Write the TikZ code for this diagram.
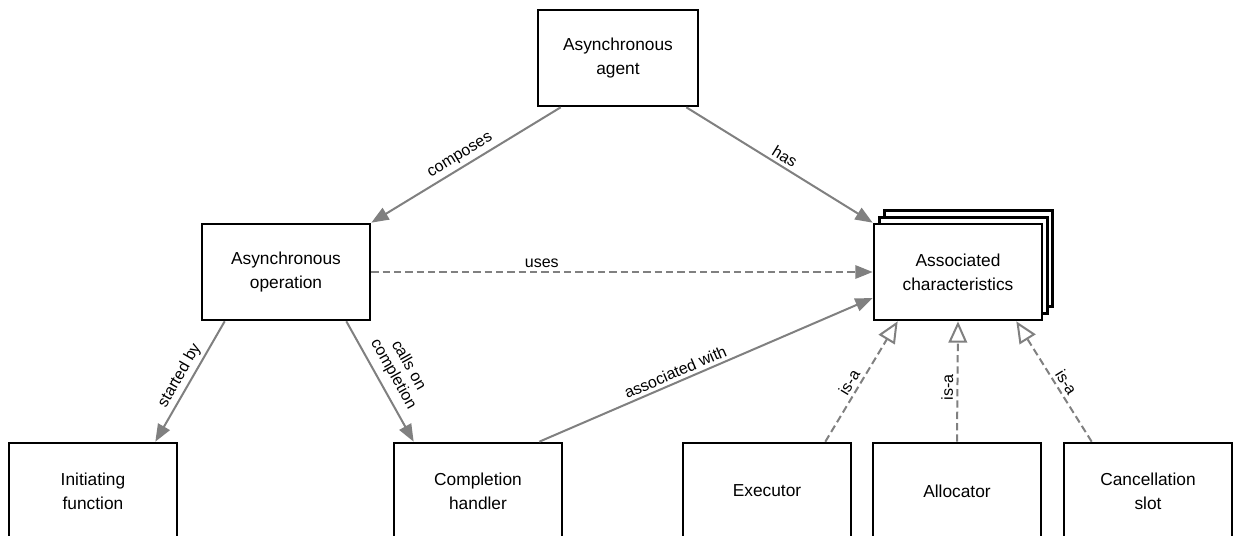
\documentclass[tikz,border=0pt]{standalone}
\usepackage{fontspec}
\setmainfont{Liberation Sans}
\usetikzlibrary{arrows.meta,calc,shadows}
\definecolor{linkgray}{HTML}{808080}
\tikzset{
  box/.style={draw, line width=2pt, fill=white, minimum width=126pt,
    minimum height=72pt, align=center, font=\fontsize{13}{18}\selectfont},
  stacked/.style={double copy shadow={shadow xshift=4pt, shadow yshift=5pt}},
  link/.style={draw=linkgray, line width=1.5pt, -{Triangle[length=13pt,width=10pt]}},
  isa/.style={draw=linkgray, line width=1.5pt, dash pattern=on 5.5pt off 3pt,
    -{Triangle[open,length=16pt,width=14pt,fill=white]}},
  lbl/.style={font=\fontsize{12}{13}\selectfont, sloped, above, inner sep=2.5pt,
    align=center, text=black}
}
\begin{document}
\begin{tikzpicture}[x=0.75pt, y=-0.75pt]
  \fill[white] (0,0) rectangle (1233,536);
  \useasboundingbox (0,0) rectangle (1233,536);
  % boxes
  \node[box, minimum width=120pt] (agent) at (618,58) {Asynchronous\\agent};
  \node[box] (op) at (286,272) {Asynchronous\\operation};
  \node[box, stacked] (assoc) at (958,272) {Associated\\characteristics};
  \node[box] (init) at (93,491) {Initiating\\function};
  \node[box] (compl) at (478,491) {Completion\\handler};
  \node[box] (exec) at (767,491) {Executor};
  \node[box] (alloc) at (957,491) {Allocator};
  \node[box] (cancel) at (1148,491) {Cancellation\\slot};
  % relations
  \begin{scope}[link]
    \draw ($(agent.south west)+(24,0)$) to node[lbl] {composes} (op.north east);
    \draw ($(agent.south east)+(-13,0)$) to node[lbl] {has} (assoc.north west);
    \draw[dash pattern=on 5.5pt off 3pt] (op.east) to node[lbl, pos=0.34] {uses} (assoc.west);
    \draw ($(op.south west)+(24,0)$) to node[lbl] {started by} ($(init.north east)+(-23,0)$);
    \draw ($(op.south east)+(-25,0)$) to node[lbl, inner sep=5pt] {calls on\\completion} ($(compl.north west)+(21,0)$);
    \draw ($(compl.north east)+(-24,0)$) to node[lbl, pos=0.42] {associated with} ($(assoc.west)+(0,26)$);
  \end{scope}
  \begin{scope}[isa]
    \draw ($(exec.north east)+(-27,0)$) to node[lbl, pos=0.45] {is-a} ($(assoc.south west)+(25,0)$);
    \draw (alloc.north) to node[lbl, pos=0.45] {is-a} (assoc.south);
    \draw ($(cancel.north west)+(29,0)$) to node[lbl, pos=0.45] {is-a} ($(assoc.south east)+(-27,0)$);
  \end{scope}
\end{tikzpicture}
\end{document}
